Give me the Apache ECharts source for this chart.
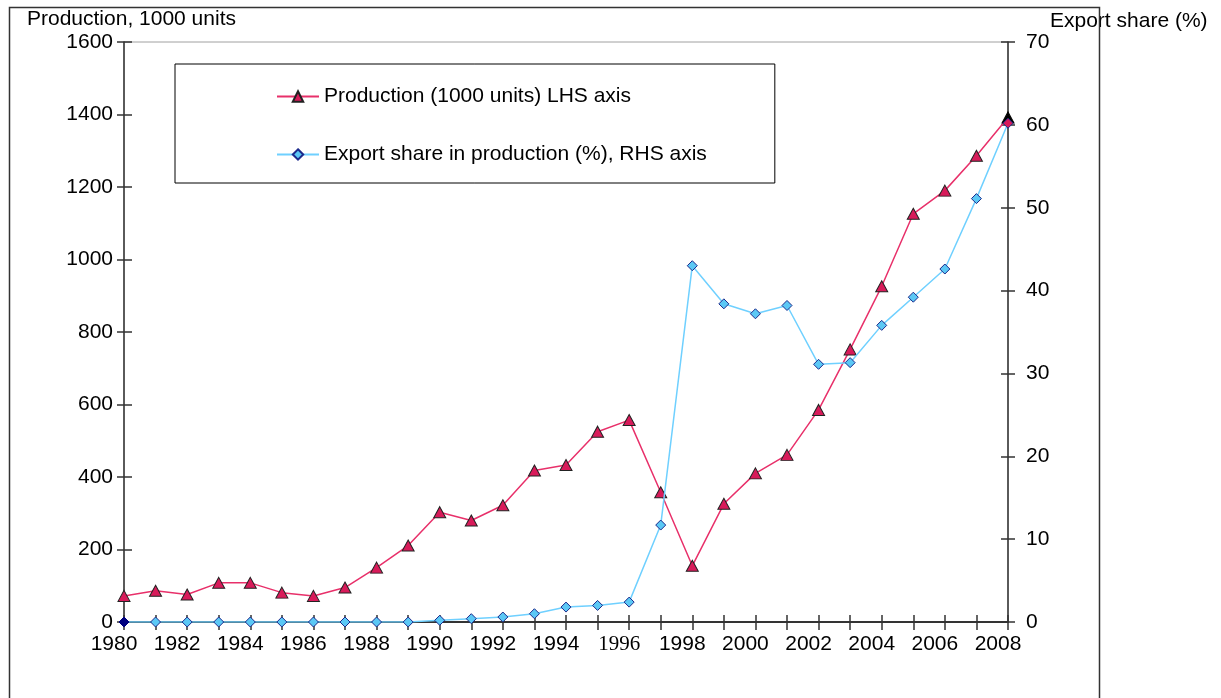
<!DOCTYPE html>
<html>
<head>
<meta charset="utf-8">
<script src="https://cdn.jsdelivr.net/npm/echarts@6/dist/echarts.min.js"></script>
<style>
html,body{margin:0;padding:0;background:#fff;}
#chart{width:1221px;height:698px;}
</style>
</head>
<body>
<div id="chart"></div>
<script>
// ---- data ----
const years = ['1980','1981','1982','1983','1984','1985','1986','1987','1988','1989',
  '1990','1991','1992','1993','1994','1995','1996','1997','1998','1999',
  '2000','2001','2002','2003','2004','2005','2006','2007','2008'];
const production = [72, 86, 76, 108, 108, 81, 72, 95, 150, 211,
  303, 280, 322, 418, 433, 525, 557, 358, 155, 326,
  410, 461, 585, 752, 926, 1126, 1190, 1286, 1392];
const exportShare = [0, 0, 0, 0, 0, 0, 0, 0, 0, 0,
  0.2, 0.4, 0.6, 1.0, 1.8, 2.0, 2.4, 11.7, 43.0, 38.4,
  37.2, 38.2, 31.1, 31.3, 35.8, 39.2, 42.6, 51.1, 60.2];
const leftTicks = {min: 0, max: 1600, interval: 200};
const rightTicks = {min: 0, max: 70, interval: 10};
const seriesNames = ['Production (1000 units) LHS axis', 'Export share in production (%), RHS axis'];
const leftTitle = 'Production, 1000 units';
const rightTitle = 'Export share (%)';

const FONT = 'Arial, "Liberation Sans", sans-serif';
const last = years.length - 1;

const prodData = production.map((v, i) => i === last
  ? {value: v, itemStyle: {color: '#000000', borderColor: '#000000'}}
  : v);
const expData = exportShare.map((v, i) => {
  if (i === 0) return {value: v, itemStyle: {color: '#000080', borderColor: '#000080'}};
  if (i === last) return {value: v, itemStyle: {color: '#d81b5a', borderColor: '#1c2a8c'}};
  return v;
});

const chart = echarts.init(document.getElementById('chart'), null, {renderer: 'canvas'});

const xBase = {
  type: 'category', data: years, boundaryGap: false, position: 'bottom',
  splitLine: {show: false}
};
const plain = v => String(v);

chart.setOption({
  animation: false,
  backgroundColor: '#ffffff',
  grid: {left: 124, right: 213, top: 42, bottom: 76, containLabel: false,
    show: true, borderColor: '#a0a0a0', borderWidth: 1, backgroundColor: 'transparent'},
  legend: {
    orient: 'vertical', left: 175, top: 64,
    padding: [22, 68, 18, 101],
    itemGap: 37, itemWidth: 42, itemHeight: 13,
    borderColor: '#000', borderWidth: 1, backgroundColor: '#fff',
    textStyle: {fontFamily: FONT, fontSize: 21, lineHeight: 21, color: '#000'},
    data: seriesNames,
    selectedMode: false
  },
  xAxis: [
    Object.assign({}, xBase, {
      axisLine: {show: true, lineStyle: {color: '#000', width: 1.5}},
      axisTick: {show: true, inside: true, length: 7, interval: 0, lineStyle: {color: '#333', width: 1.5}},
      axisLabel: {
        show: true, interval: 1, margin: 12, color: '#000',
        fontFamily: FONT, fontSize: 21, padding: [0, 20, 0, 0],
        formatter: function (v) { return v === '1996' ? '{s|' + v + '}' : v; },
        rich: {s: {fontFamily: '"Liberation Serif", "Times New Roman", serif', fontSize: 21, color: '#000'}}
      }
    }),
    Object.assign({}, xBase, {
      axisLine: {show: false},
      axisTick: {show: true, inside: false, length: 8, interval: 0, lineStyle: {color: '#333', width: 1.5}},
      axisLabel: {show: false}
    })
  ],
  yAxis: [
    {type: 'value', position: 'left', min: leftTicks.min, max: leftTicks.max, interval: leftTicks.interval,
      axisLine: {show: true, lineStyle: {color: '#333', width: 1.5}},
      axisTick: {show: true, inside: false, length: 7, lineStyle: {color: '#333', width: 1.5}},
      axisLabel: {margin: 11, color: '#000', fontFamily: FONT, fontSize: 21, formatter: plain},
      splitLine: {show: false}},
    {type: 'value', position: 'left', min: leftTicks.min, max: leftTicks.max, interval: leftTicks.interval,
      axisLine: {show: false},
      axisTick: {show: true, inside: true, length: 8, lineStyle: {color: '#333', width: 1.5}},
      axisLabel: {show: false}, splitLine: {show: false}},
    {type: 'value', position: 'right', min: rightTicks.min, max: rightTicks.max, interval: rightTicks.interval,
      axisLine: {show: true, lineStyle: {color: '#333', width: 1.5}},
      axisTick: {show: true, inside: false, length: 7, lineStyle: {color: '#333', width: 1.5}},
      axisLabel: {margin: 18, color: '#000', fontFamily: FONT, fontSize: 21, formatter: plain},
      splitLine: {show: false}},
    {type: 'value', position: 'right', min: rightTicks.min, max: rightTicks.max, interval: rightTicks.interval,
      axisLine: {show: false},
      axisTick: {show: true, inside: true, length: 7, lineStyle: {color: '#333', width: 1.5}},
      axisLabel: {show: false}, splitLine: {show: false}}
  ],
  series: [
    {name: seriesNames[0], type: 'line', xAxisIndex: 0, yAxisIndex: 0, data: prodData,
      symbol: 'triangle', symbolSize: [12, 11], showAllSymbol: true,
      lineStyle: {color: '#e8306a', width: 1.5},
      itemStyle: {color: '#d81b5a', borderColor: '#222', borderWidth: 1},
      emphasis: {disabled: true}, z: 3},
    {name: seriesNames[1], type: 'line', xAxisIndex: 0, yAxisIndex: 2, data: expData,
      symbol: 'diamond', symbolSize: [10, 10], showAllSymbol: true,
      lineStyle: {color: '#6fd0ff', width: 1.5},
      itemStyle: {color: '#5bc8f5', borderColor: '#1c2a8c', borderWidth: 1},
      emphasis: {disabled: true}, z: 4}
  ],
  graphic: [
    {type: 'rect', left: 7, top: 5, silent: true, z: 100,
      shape: {x: 0, y: 0, width: 1090, height: 800},
      style: {fill: 'none', stroke: '#333', lineWidth: 1.5}},
    {type: 'text', x: 27, y: 19.5, silent: true, z: 101,
      style: {text: leftTitle, font: '21px ' + FONT, fill: '#000', textVerticalAlign: 'middle', verticalAlign: 'middle'}},
    {type: 'text', x: 1050, y: 21.5, silent: true, z: 99,
      style: {text: rightTitle, font: '21px ' + FONT, fill: '#000', textVerticalAlign: 'middle', verticalAlign: 'middle'}}
  ]
});
</script>
</body>
</html>
